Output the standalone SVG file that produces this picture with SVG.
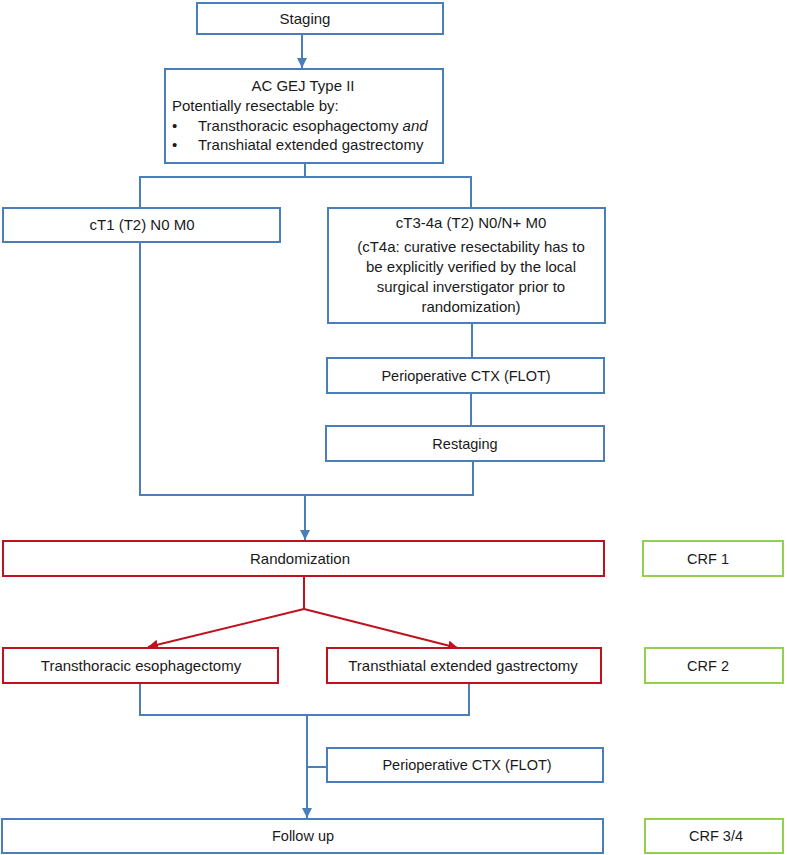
<svg xmlns="http://www.w3.org/2000/svg" width="787" height="855" viewBox="0 0 787 855">
<style>
.b{fill:#fff;stroke:#4a7ebb;stroke-width:2}
.r{fill:#fff;stroke:#c0111f;stroke-width:2}
.g{fill:#fff;stroke:#92d050;stroke-width:2}
text{font-family:"Liberation Sans",Arial,sans-serif;font-size:15px;fill:#1a1a1a}
.c{text-anchor:middle}
.s{font-size:14.5px}
.cb{fill:none;stroke:#4a7ebb;stroke-width:2}
.cr{fill:none;stroke:#c0111f;stroke-width:2}
</style>
<defs>
<marker id="ab" markerUnits="userSpaceOnUse" markerWidth="12" markerHeight="12" refX="10" refY="5" orient="auto"><path d="M0,0 L10,5 L0,10 z" fill="#4a7ebb"/></marker>
<marker id="ar" markerUnits="userSpaceOnUse" markerWidth="12" markerHeight="12" refX="10" refY="5" orient="auto"><path d="M0,0 L10,5 L0,10 z" fill="#c0111f"/></marker>
</defs>
<rect width="787" height="855" fill="#fff"/>
<g id="connectors">
<path class="cb" d="M302,34 V68" marker-end="url(#ab)"/>
<path class="cb" d="M305,163 V177"/>
<path class="cb" d="M140,208 V177 H471 V208"/>
<path class="cb" d="M472,323 V358"/>
<path class="cb" d="M471,393 V426"/>
<path class="cb" d="M140,242 V495 H473 V461"/>
<path class="cb" d="M305,495 V540" marker-end="url(#ab)"/>
<path class="cr" d="M304,576 V609"/>
<path class="cr" d="M304,609 L148,647" marker-end="url(#ar)"/>
<path class="cr" d="M304,609 L458,648" marker-end="url(#ar)"/>
<path class="cb" d="M140,683 V715 H469 V683"/>
<path class="cb" d="M307,715 V818" marker-end="url(#ab)"/>
<path class="cb" d="M307,767 H327"/>
</g>
<g id="staging"><rect class="b" x="197" y="3" width="246" height="31"/><text class="c" x="305" y="24">Staging</text></g>
<g id="acgej"><rect class="b" x="165" y="69" width="278" height="94"/>
<text class="c" x="303" y="91">AC GEJ Type II</text>
<text x="172" y="111">Potentially resectable by:</text>
<text x="172" y="131">•</text><text x="198" y="131">Transthoracic esophagectomy <tspan font-style="italic">and</tspan></text>
<text x="172" y="150">•</text><text x="198" y="150">Transhiatal extended gastrectomy</text>
</g>
<g id="ct1"><rect class="b" x="3" y="208" width="277" height="34"/><text class="c" x="142" y="230">cT1 (T2) N0 M0</text></g>
<g id="ct3"><rect class="b" x="328" y="208" width="277" height="115"/>
<text class="c" x="471" y="228">cT3-4a (T2) N0/N+ M0</text>
<text class="c" x="471" y="252">(cT4a: curative resectability has to</text>
<text class="c" x="471" y="272">be explicitly verified by the local</text>
<text class="c" x="471" y="292">surgical inverstigator prior to</text>
<text class="c" x="471" y="312">randomization)</text>
</g>
<g id="periop1"><rect class="b" x="327" y="358" width="277" height="35"/><text class="c s" x="466" y="381">Perioperative CTX (FLOT)</text></g>
<g id="restaging"><rect class="b" x="326" y="426" width="278" height="35"/><text class="c s" x="465" y="449">Restaging</text></g>
<g id="randomization"><rect class="r" x="3" y="541" width="601" height="35"/><text class="c" x="300" y="564">Randomization</text></g>
<g id="crf1"><rect class="g" x="643" y="541" width="140" height="35"/><text class="c s" x="708" y="564">CRF 1</text></g>
<g id="esoph"><rect class="r" x="3" y="648" width="275" height="35"/><text class="c" x="141" y="671">Transthoracic esophagectomy</text></g>
<g id="gastr"><rect class="r" x="327" y="648" width="274" height="35"/><text class="c" x="463" y="671">Transthiatal extended gastrectomy</text></g>
<g id="crf2"><rect class="g" x="645" y="648" width="138" height="35"/><text class="c s" x="708" y="671">CRF 2</text></g>
<g id="periop2"><rect class="b" x="327" y="748" width="276" height="34"/><text class="c s" x="467" y="770">Perioperative CTX (FLOT)</text></g>
<g id="followup"><rect class="b" x="2" y="819" width="601" height="34"/><text class="c s" x="303" y="841">Follow up</text></g>
<g id="crf34"><rect class="g" x="645" y="819" width="138" height="34"/><text class="c s" x="716" y="841">CRF 3/4</text></g>
</svg>
